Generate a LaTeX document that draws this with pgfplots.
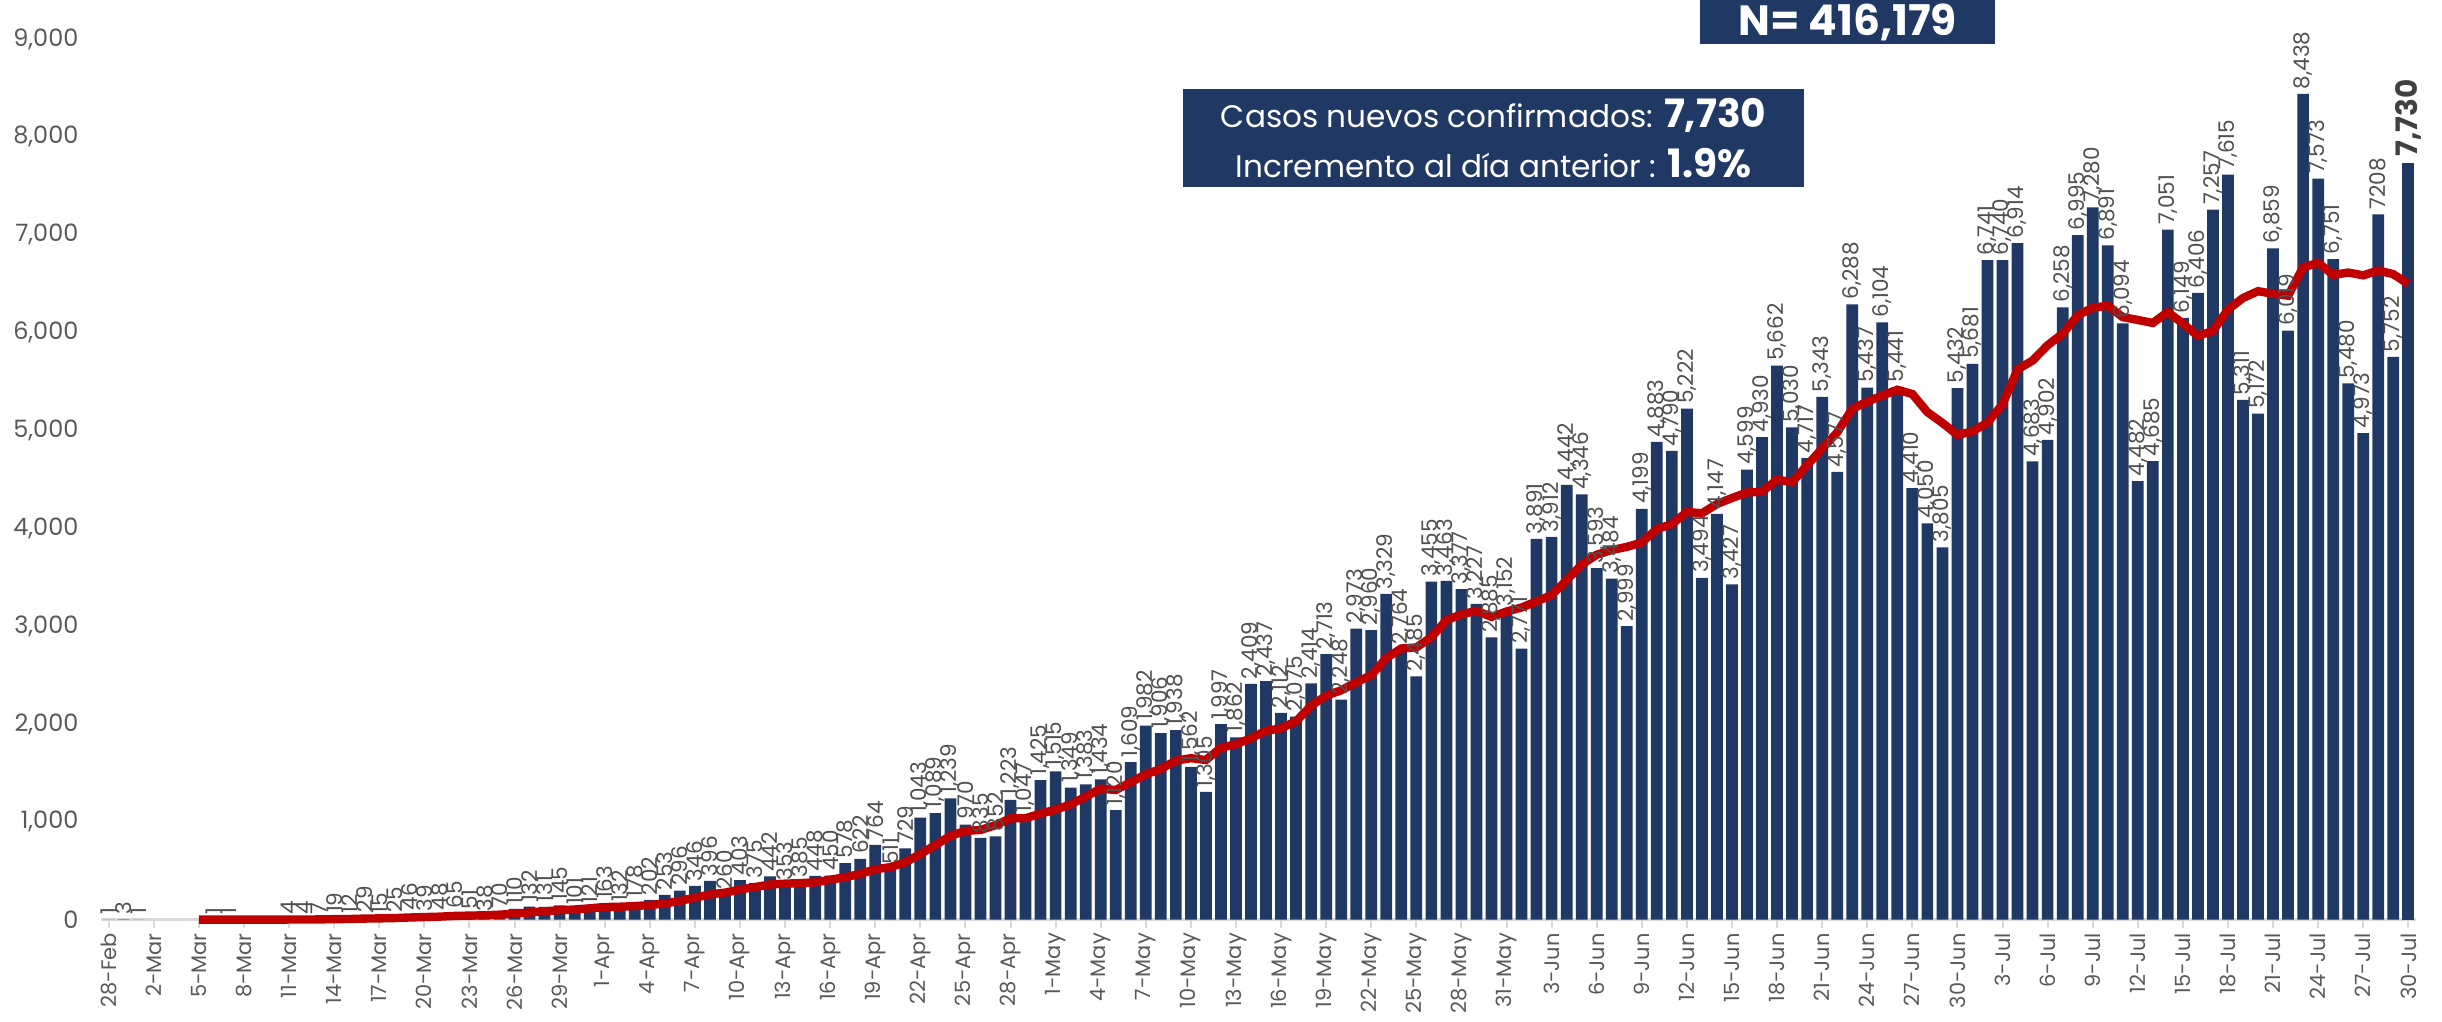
\documentclass[border=0pt]{standalone}
\usepackage{pgfplots}
\pgfplotsset{compat=1.18}
\usepackage{pgfplotstable}
\usepackage{fontspec}
\setmainfont{Poppins}
\definecolor{navy}{RGB}{32,56,100}
\definecolor{bred}{RGB}{192,0,0}
\definecolor{tickgray}{RGB}{89,89,89}
\definecolor{lblgray}{RGB}{80,80,80}

% daily new cases (index 0 = 28-Feb); zero days left out
\pgfplotstableread{
x y lab
0 1 1
1 3 3
2 1 1
7 1 1
8 1 1
12 4 4
13 4 4
14 7 7
15 19 19
16 12 12
17 29 29
18 15 15
19 25 25
20 46 46
21 39 39
22 48 48
23 65 65
24 51 51
25 38 38
26 70 70
27 110 110
28 132 132
29 131 131
30 145 145
31 101 101
32 121 121
33 163 163
34 132 132
35 178 178
36 202 202
37 253 253
38 296 296
39 346 346
40 396 396
41 260 260
42 403 403
43 375 375
44 442 442
45 353 353
46 385 385
47 448 448
48 450 450
49 578 578
50 622 622
51 764 764
52 511 511
53 729 729
54 1043 1,043
55 1089 1,089
56 1239 1,239
57 970 970
58 835 835
59 852 852
60 1223 1,223
61 1047 1,047
62 1425 1,425
63 1515 1,515
64 1349 1,349
65 1383 1,383
66 1434 1,434
67 1120 1,120
68 1609 1,609
69 1982 1,982
70 1906 1,906
71 1938 1,938
72 1562 1,562
73 1305 1,305
74 1997 1,997
75 1862 1,862
76 2409 2,409
77 2437 2,437
78 2112 2,112
79 2075 2,075
80 2414 2,414
81 2713 2,713
82 2248 2,248
83 2973 2,973
84 2960 2,960
85 3329 3,329
86 2764 2,764
87 2485 2,485
88 3455 3,455
89 3463 3,463
90 3377 3,377
91 3227 3,227
92 2885 2,885
93 3152 3,152
94 2771 2,771
95 3891 3,891
96 3912 3,912
97 4442 4,442
98 4346 4,346
99 3593 3,593
100 3484 3,484
101 2999 2,999
102 4199 4,199
103 4883 4,883
104 4790 4,790
105 5222 5,222
106 3494 3,494
107 4147 4,147
108 3427 3,427
109 4599 4,599
110 4930 4,930
111 5662 5,662
112 5030 5,030
113 4717 4,717
114 5343 5,343
115 4577 4,577
116 6288 6,288
117 5437 5,437
118 6104 6,104
119 5441 5,441
120 4410 4,410
121 4050 4,050
122 3805 3,805
123 5432 5,432
124 5681 5,681
125 6741 6,741
126 6740 6,740
127 6914 6,914
128 4683 4,683
129 4902 4,902
130 6258 6,258
131 6995 6,995
132 7280 7,280
133 6891 6,891
134 6094 6,094
135 4482 4,482
136 4685 4,685
137 7051 7,051
138 6149 6,149
139 6406 6,406
140 7257 7,257
141 7615 7,615
142 5311 5,311
143 5172 5,172
144 6859 6,859
145 6019 6,019
146 8438 8,438
147 7573 7,573
148 6751 6,751
149 5480 5,480
150 4973 4,973
151 7208 7208
152 5752 5,752
}\casos

% 7-day moving average
\pgfplotstableread{
x y
6 0.7
7 0.7
8 0.4
9 0.3
10 0.3
11 0.3
12 0.9
13 1.4
14 2.3
15 4.9
16 6.6
17 10.7
18 12.9
19 15.9
20 21.9
21 26.4
22 30.6
23 38.1
24 41.3
25 44.6
26 51.0
27 60.1
28 73.4
29 85.3
30 96.7
31 103.9
32 115.7
33 129.0
34 132.1
35 138.7
36 148.9
37 164.3
38 192.1
39 224.3
40 257.6
41 275.9
42 308.0
43 332.7
44 359.7
45 367.9
46 373.4
47 380.9
48 408.0
49 433.0
50 468.3
51 514.3
52 536.9
53 586.0
54 671.0
55 762.3
56 856.7
57 906.4
58 916.6
59 965.3
60 1035.9
61 1036.4
62 1084.4
63 1123.9
64 1178.0
65 1256.3
66 1339.4
67 1324.7
68 1405.0
69 1484.6
70 1540.4
71 1624.6
72 1650.1
73 1631.7
74 1757.0
75 1793.1
76 1854.1
77 1930.0
78 1954.9
79 2028.1
80 2186.6
81 2288.9
82 2344.0
83 2424.6
84 2499.3
85 2673.1
86 2771.6
87 2781.7
88 2887.7
89 3061.3
90 3119.0
91 3157.1
92 3093.7
93 3149.1
94 3190.0
95 3252.3
96 3316.4
97 3468.6
98 3628.4
99 3729.6
100 3777.0
101 3809.6
102 3853.6
103 3992.3
104 4042.0
105 4167.1
106 4153.0
107 4247.7
108 4308.9
109 4366.0
110 4372.7
111 4497.3
112 4469.9
113 4644.6
114 4815.4
115 4979.7
116 5221.0
117 5293.4
118 5356.6
119 5415.3
120 5371.4
121 5186.7
122 5076.4
123 4954.1
124 4989.0
125 5080.0
126 5265.6
127 5623.3
128 5713.7
129 5870.4
130 5988.4
131 6176.1
132 6253.1
133 6274.7
134 6157.6
135 6128.9
136 6097.9
137 6211.1
138 6090.3
139 5965.4
140 6017.7
141 6235.0
142 6353.4
143 6423.0
144 6395.6
145 6377.0
146 6667.3
147 6712.4
148 6589.0
149 6613.1
150 6584.7
151 6634.6
152 6596.4
153 6495.3
}\media

\begin{document}
\begin{tikzpicture}
\begin{axis}[
  scale only axis, width=580.2pt, height=220.75pt,
  xmin=-0.5, xmax=153.5, ymin=0, ymax=9000,
  clip=false,
  axis lines*=left,
  x axis line style={draw=black!15, line width=0.6pt},
  y axis line style={draw=none},
  xtick={0,3,...,153},
  xticklabels={28-Feb,2-Mar,5-Mar,8-Mar,11-Mar,14-Mar,17-Mar,20-Mar,23-Mar,26-Mar,29-Mar,1-Apr,4-Apr,7-Apr,10-Apr,13-Apr,16-Apr,19-Apr,22-Apr,25-Apr,28-Apr,1-May,4-May,7-May,10-May,13-May,16-May,19-May,22-May,25-May,28-May,31-May,3-Jun,6-Jun,9-Jun,12-Jun,15-Jun,18-Jun,21-Jun,24-Jun,27-Jun,30-Jun,3-Jul,6-Jul,9-Jul,12-Jul,15-Jul,18-Jul,21-Jul,24-Jul,27-Jul,30-Jul},
  xticklabel style={rotate=90, anchor=east, inner sep=1pt, font=\fontsize{5.25}{6}\selectfont, text=tickgray},
  xtick style={draw=black!15, line width=0.5pt},
  tick align=outside,
  major tick length=2.2pt,
  ytick={0,1000,...,9000},
  ytick style={draw=none},
  yticklabel style={font=\fontsize{6}{7}\selectfont, text=tickgray},
  /pgf/number format/1000 sep={,},
  /pgf/number format/assume math mode=true,
]
\addplot[ybar, bar width=0.78, bar shift=0pt, fill=navy, draw=none,
  point meta=explicit symbolic, nodes near coords,
  every node near coord/.append style={rotate=90, anchor=west, inner sep=1pt,
    font=\fontsize{5.4}{6}\selectfont, text=lblgray}]
  table[x=x, y=y, meta=lab]{\casos};
\addplot[ybar, bar width=0.78, bar shift=0pt, fill=navy, draw=none,
  nodes near coords={\bfseries 7,730},
  every node near coord/.append style={rotate=90, anchor=west, inner sep=1.5pt,
    font=\fontsize{7.4}{8}\selectfont, text=black!75}]
  coordinates {(153,7730)};
\addplot[bred, line width=2.1pt, sharp plot, no marks] table[x=x, y=y]{\media};

\node[fill=navy, text=white, minimum width=74pt, minimum height=11pt, inner sep=0pt,
  font=\fontsize{10.6}{11}\selectfont\bfseries] at (axis cs:115.7,9174) {N= 416,179};
\node[fill=navy, text=white, minimum width=155.5pt, minimum height=24.75pt, inner sep=0pt,
  align=center, font=\fontsize{7.8}{12.5}\selectfont] at (axis cs:92.14,7987)
  {Casos nuevos confirmados: {\fontsize{9.8}{12.5}\selectfont\bfseries 7,730}\\
   Incremento al día anterior : {\fontsize{9.8}{12.5}\selectfont\bfseries 1.9\%}};
\path (axis cs:-6.8,9398.6) rectangle (axis cs:155.24,-1039.8);
\end{axis}
\end{tikzpicture}
\end{document}
